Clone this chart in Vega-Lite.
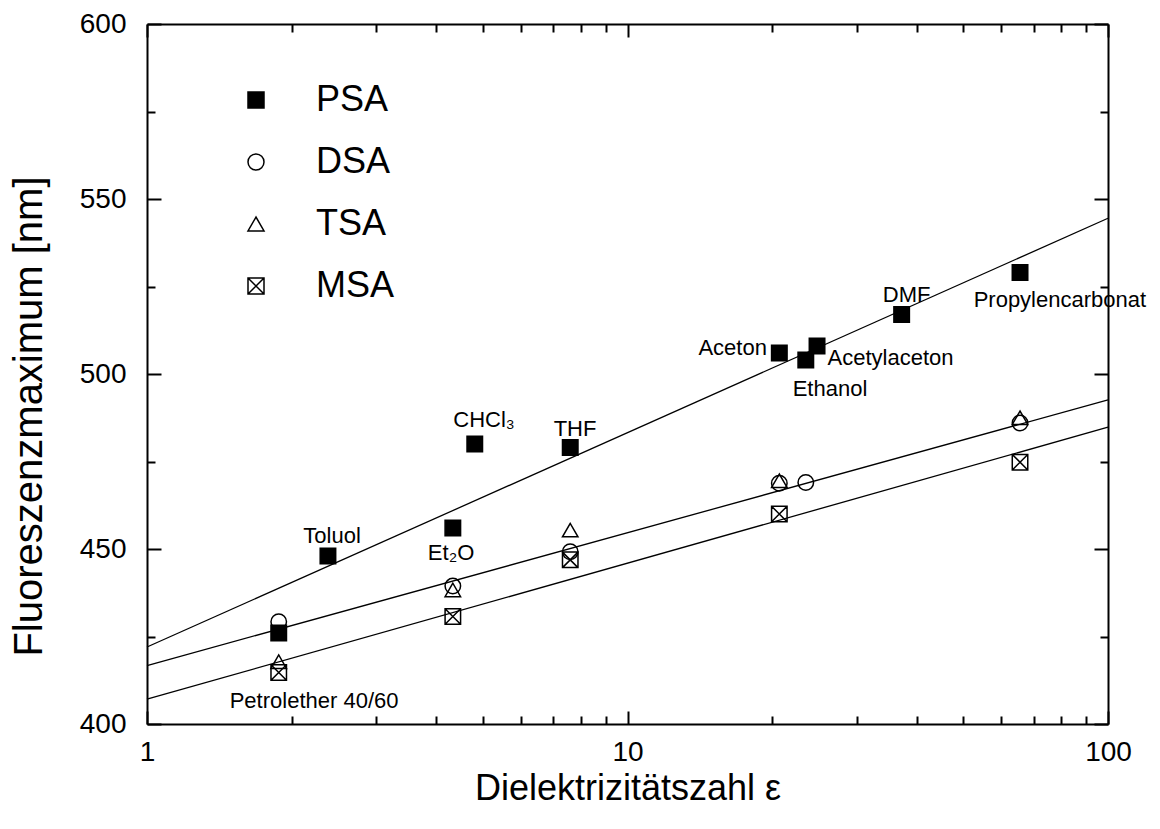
{
  "$schema": "https://vega.github.io/schema/vega-lite/v6.json",
  "width": 961,
  "height": 700,
  "autosize": {"type": "none"},
  "padding": {"left": 147, "top": 24, "right": 52, "bottom": 105},
  "background": "white",
  "config": {
    "view": {"stroke": null},
    "font": "Liberation Sans",
    "axis": {
      "grid": false,
      "domainColor": "black",
      "domainWidth": 2,
      "tickColor": "black",
      "tickWidth": 2,
      "labelColor": "black",
      "titleColor": "black",
      "labelFont": "Liberation Sans",
      "titleFont": "Liberation Sans",
      "titleFontWeight": "normal",
      "labelFontSize": 28,
      "titleFontSize": 36,
      "labelFlush": false,
      "labelOverlap": false
    },
    "legend": {"symbolStrokeColor": "black", "symbolStrokeWidth": 1.5}
  },
  "datasets": {
    "points": [
      {"series": "PSA", "eps": 1.88, "nm": 426},
      {"series": "PSA", "eps": 2.38, "nm": 448},
      {"series": "PSA", "eps": 4.33, "nm": 456},
      {"series": "PSA", "eps": 4.81, "nm": 480},
      {"series": "PSA", "eps": 7.6, "nm": 479},
      {"series": "PSA", "eps": 20.7, "nm": 506},
      {"series": "PSA", "eps": 23.5, "nm": 504},
      {"series": "PSA", "eps": 24.8, "nm": 508},
      {"series": "PSA", "eps": 37.2, "nm": 517},
      {"series": "PSA", "eps": 65.6, "nm": 529},
      {"series": "DSA", "eps": 1.88, "nm": 429.2},
      {"series": "DSA", "eps": 4.33, "nm": 439.4},
      {"series": "DSA", "eps": 7.6, "nm": 449.2},
      {"series": "DSA", "eps": 20.7, "nm": 468.8},
      {"series": "DSA", "eps": 23.5, "nm": 469},
      {"series": "DSA", "eps": 65.6, "nm": 486},
      {"series": "TSA", "eps": 1.88, "nm": 417.8},
      {"series": "TSA", "eps": 4.33, "nm": 438.3},
      {"series": "TSA", "eps": 7.6, "nm": 455.4},
      {"series": "TSA", "eps": 20.7, "nm": 469.5},
      {"series": "TSA", "eps": 65.6, "nm": 487.5},
      {"series": "MSA", "eps": 1.88, "nm": 414.7},
      {"series": "MSA", "eps": 4.33, "nm": 430.7},
      {"series": "MSA", "eps": 7.6, "nm": 446.9},
      {"series": "MSA", "eps": 20.7, "nm": 460},
      {"series": "MSA", "eps": 65.6, "nm": 474.8}
    ],
    "fits": [
      {"fit": "PSA", "eps": 1, "nm": 422},
      {"fit": "PSA", "eps": 100, "nm": 544.5},
      {"fit": "DSA/TSA", "eps": 1, "nm": 416.7},
      {"fit": "DSA/TSA", "eps": 100, "nm": 492.6},
      {"fit": "MSA", "eps": 1, "nm": 407.1},
      {"fit": "MSA", "eps": 100, "nm": 484.8}
    ],
    "labels1": [
      {"label": "Toluol", "eps": 2.427, "nm": 451.8},
      {"label": "THF", "eps": 7.777, "nm": 482.4},
      {"label": "Aceton", "eps": 16.55, "nm": 505.4},
      {"label": "Acetylaceton", "eps": 35.27, "nm": 502.6},
      {"label": "Ethanol", "eps": 26.39, "nm": 493.7},
      {"label": "DMF", "eps": 38.11, "nm": 520.7},
      {"label": "Propylencarbonat", "eps": 79.4, "nm": 519.2},
      {"label": "Petrolether 40/60", "eps": 2.227, "nm": 404.5}
    ],
    "labels2": [
      {"label": "CHCl₃", "eps": 5.028, "nm": 484.9},
      {"label": "Et₂O", "eps": 4.294, "nm": 446.9}
    ]
  },
  "layer": [
    {
      "data": {"name": "fits"},
      "mark": {"type": "line", "stroke": "black", "strokeWidth": 1.3},
      "encoding": {
        "x": {
          "field": "eps", "type": "quantitative",
          "scale": {"type": "log", "domain": [1, 100], "nice": false},
          "axis": {"orient": "bottom", "values": [2, 3, 4, 5, 6, 7, 8, 9, 20, 30, 40, 50, 60, 70, 80, 90], "tickSize": -8, "labels": false, "domain": false, "title": null}
        },
        "y": {
          "field": "nm", "type": "quantitative",
          "scale": {"domain": [400, 600], "nice": false},
          "axis": {"orient": "left", "values": [425, 475, 525, 575], "tickSize": -8, "labels": false, "domain": false, "title": null}
        },
        "detail": {"field": "fit"}
      }
    },
    {
      "data": {"name": "labels1"},
      "mark": {"type": "text", "fontSize": 22, "font": "Liberation Sans", "align": "center", "baseline": "alphabetic", "color": "black"},
      "encoding": {
        "x": {
          "field": "eps", "type": "quantitative",
          "axis": {"orient": "top", "values": [1, 10, 100], "tickSize": -13, "labels": false, "title": null}
        },
        "y": {
          "field": "nm", "type": "quantitative",
          "axis": {"orient": "right", "values": [400, 450, 500, 550, 600], "tickSize": -14, "labels": false, "title": null}
        },
        "text": {"field": "label"}
      }
    },
    {
      "data": {"name": "labels2"},
      "mark": {"type": "text", "fontSize": 22, "font": "Liberation Sans", "align": "center", "baseline": "alphabetic", "color": "black"},
      "encoding": {
        "x": {
          "field": "eps", "type": "quantitative",
          "axis": {"orient": "top", "values": [2, 3, 4, 5, 6, 7, 8, 9, 20, 30, 40, 50, 60, 70, 80, 90], "tickSize": -8, "labels": false, "domain": false, "title": null}
        },
        "y": {
          "field": "nm", "type": "quantitative",
          "axis": {"orient": "right", "values": [425, 475, 525, 575], "tickSize": -8, "labels": false, "domain": false, "title": null}
        },
        "text": {"field": "label"}
      }
    },
    {
      "data": {"name": "points"},
      "mark": {"type": "point", "filled": true, "strokeWidth": 1.5, "size": 240, "opacity": 1},
      "encoding": {
        "x": {
          "field": "eps", "type": "quantitative",
          "axis": {"orient": "bottom", "values": [1, 10, 100], "tickSize": -13, "labelPadding": 27, "title": "Dielektrizitätszahl ε", "titleX": 480.5, "titleY": 75, "titleBaseline": "alphabetic", "titleAnchor": "middle"}
        },
        "y": {
          "field": "nm", "type": "quantitative",
          "axis": {"orient": "left", "values": [400, 450, 500, 550, 600], "tickSize": -14, "labelPadding": 35, "title": "Fluoreszenzmaximum [nm]", "titleFontSize": 40, "titleX": -118, "titleY": 392, "titleBaseline": "middle", "titleAnchor": "middle"}
        },
        "shape": {
          "field": "series", "type": "nominal",
          "scale": {"domain": ["PSA", "DSA", "TSA", "MSA"], "range": ["square", "circle", "triangle-up", "M-1,-1H1V1H-1Z M-1,-1L1,1 M-1,1L1,-1"]},
          "legend": {"orient": "none", "legendX": 91, "legendY": 58, "title": null, "labelFontSize": 36, "labelFont": "Liberation Sans", "labelColor": "black", "labelOffset": 42, "rowPadding": 26, "symbolSize": 256, "symbolStrokeWidth": 1.5, "padding": 0}
        },
        "fill": {
          "field": "series", "type": "nominal",
          "scale": {"domain": ["PSA", "DSA", "TSA", "MSA"], "range": ["black", "transparent", "transparent", "transparent"]},
          "legend": {"orient": "none", "legendX": 91, "legendY": 58, "title": null, "labelFontSize": 36, "labelFont": "Liberation Sans", "labelColor": "black", "labelOffset": 42, "rowPadding": 26, "symbolSize": 256, "symbolStrokeWidth": 1.5, "padding": 0}
        },
        "stroke": {
          "field": "series", "type": "nominal",
          "scale": {"domain": ["PSA", "DSA", "TSA", "MSA"], "range": ["black", "black", "black", "black"]},
          "legend": {"orient": "none", "legendX": 91, "legendY": 58, "title": null, "labelFontSize": 36, "labelFont": "Liberation Sans", "labelColor": "black", "labelOffset": 42, "rowPadding": 26, "symbolSize": 256, "symbolStrokeWidth": 1.5, "padding": 0}
        }
      }
    }
  ],
  "resolve": {"axis": {"x": "independent", "y": "independent"}}
}
